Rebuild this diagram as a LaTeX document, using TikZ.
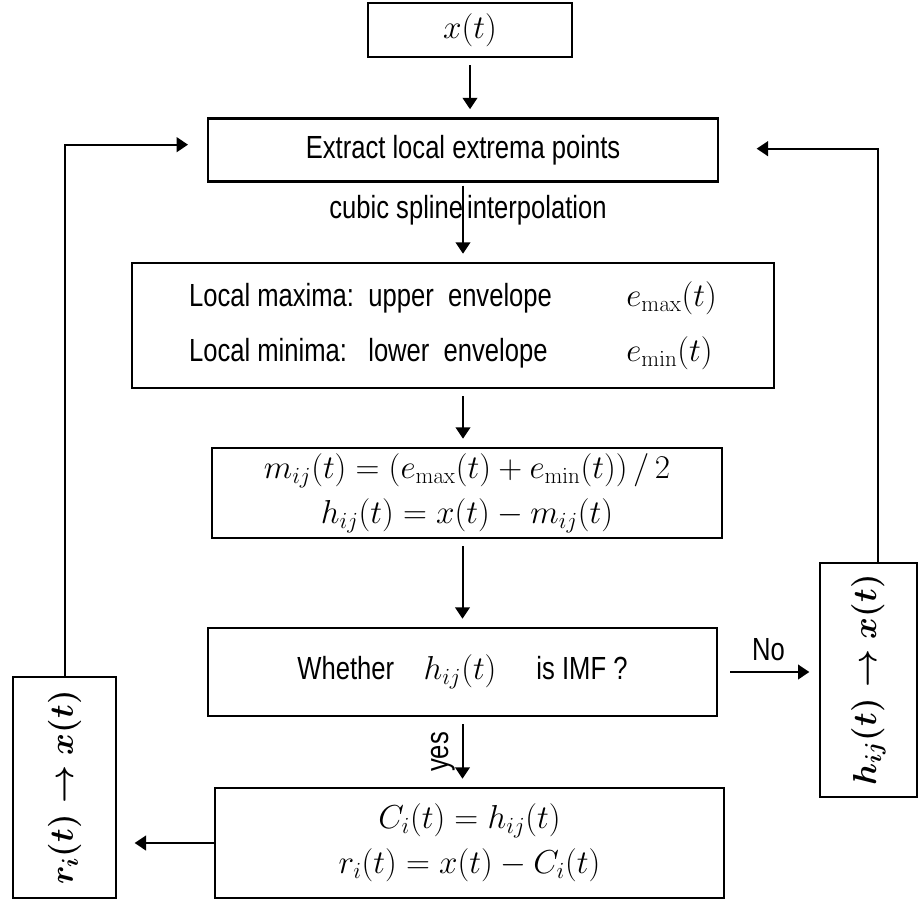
\documentclass[tikz,border=0pt]{standalone}
\usepackage{amsmath}
\usepackage[no-math]{fontspec}
\setmainfont{Liberation Sans}[FakeStretch=0.8]
\usetikzlibrary{arrows.meta}

\begin{document}
\begin{tikzpicture}[x=0.75pt,y=-0.75pt,>={Triangle[length=8.5pt,width=11pt]},line width=1.5pt]

	\tikzstyle{box}  = [rectangle, draw=black, line width=2pt, inner sep=0pt]
	\tikzstyle{txt}  = [font=\fontsize{24pt}{28pt}\selectfont]
	\tikzstyle{eqn}  = [font=\fontsize{25pt}{34pt}\selectfont]
	\tikzstyle{flow} = [->, shorten <=5pt, shorten >=6pt]

	\useasboundingbox (0,0) rectangle (918,900);

	\node [box, eqn, minimum width=153pt, minimum height=40.5pt] (xt) at (470,30) {$x(t)$};

	\node [box, txt, minimum width=382.5pt, minimum height=47.25pt] (extract) at (463,150) {Extract local extrema points};

	\node [txt] (spline) at (468,210) {cubic spline\hspace{3pt}interpolation};

	\node [box, minimum width=481.5pt, minimum height=93.75pt, align=left, font=\fontsize{24pt}{41pt}\selectfont] (local) at (453,325.5)
		{\makebox[328pt][l]{Local maxima:\ \ upper\ \ envelope}{\fontsize{25pt}{41pt}\selectfont$e_{\max}(t)$}\\
		 \makebox[328pt][l]{Local minima:\ \ \ lower\ \ envelope}{\fontsize{25pt}{41pt}\selectfont$e_{\min}(t)$}};

	\node [box, eqn, align=center, minimum width=382.5pt, minimum height=67.5pt] (mij) at (467,493)
		{$m_{ij}(t)=(e_{\max}(t)+e_{\min}(t))\,/\,2$\\ $h_{ij}(t)=x(t)-m_{ij}(t)$};

	\node [box, txt, minimum width=381.75pt, minimum height=66pt] (whether) at (462.5,672)
		{Whether\hspace{22pt}{\fontsize{25pt}{30pt}\selectfont$h_{ij}(t)$}\hspace{30pt}is IMF ?};

	\node [box, eqn, align=center, minimum width=381.75pt, minimum height=82.5pt] (ci) at (469.5,843)
		{$C_i(t)=h_{ij}(t)$\\ $r_i(t)=x(t)-C_i(t)$};

	\node [box, eqn, minimum width=77.25pt, minimum height=165.75pt] (ri) at (64.5,787.5)
		{\rotatebox{90}{$\boldsymbol{r_i(t)\rightarrow x(t)}$}};

	\node [box, eqn, minimum width=72.75pt, minimum height=175.5pt] (hij) at (868.5,680)
		{\rotatebox{90}{$\boldsymbol{h_{ij}(t)\rightarrow x(t)}$}};

	% main column
	\draw [flow] (xt.south) -- (xt.south |- extract.north);
	\draw [flow, shorten <=2pt] (extract.south) -- (extract.south |- local.north);
	\draw [flow] (extract.south |- local.south) -- (extract.south |- mij.north);
	\draw [flow] (whether.north |- mij.south) -- (whether.north);
	\draw [flow] (whether.south) -- node [txt, rotate=90, anchor=south, inner sep=5pt] (yes) {yes} (whether.south |- ci.north);

	% branches
	\draw [->, shorten <=9pt, shorten >=7pt] (whether.east) -- node [txt, above, inner sep=8pt] (no) {No} (hij.west |- whether.east);
	\draw [->, shorten >=13pt] (ci.west) -- (ri.east |- ci.west);

	% feedback
	\draw [->, shorten >=14pt] (ri.north) |- ([yshift=4pt]extract.west);
	\draw [->, shorten >=28pt] ([xshift=7pt]hij.north) |- ([yshift=1pt]extract.east);

\end{tikzpicture}
\end{document}
